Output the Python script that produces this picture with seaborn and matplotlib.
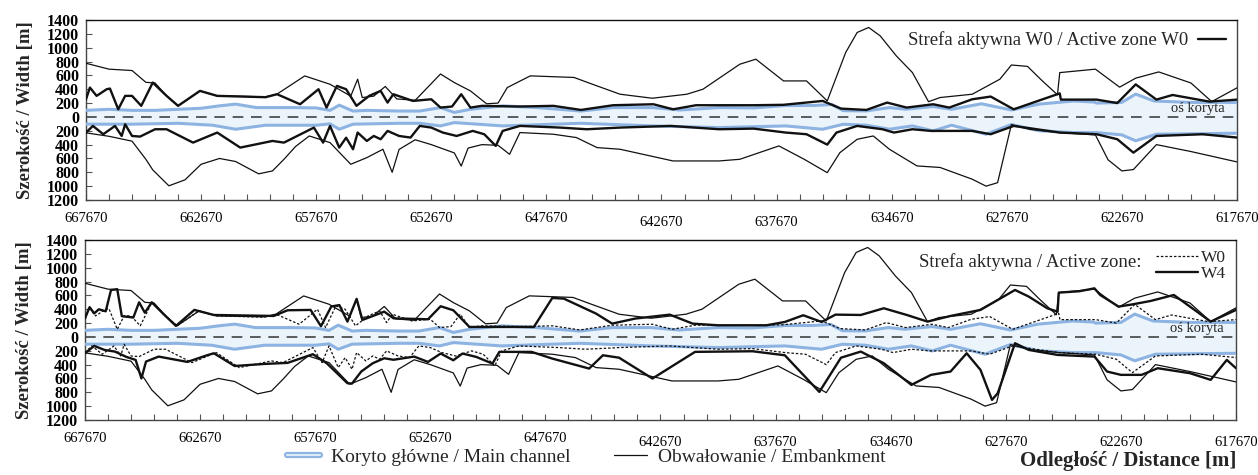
import numpy as np
import matplotlib
matplotlib.use("Agg")
import matplotlib.pyplot as plt
import seaborn as sns
from matplotlib.lines import Line2D
from matplotlib.legend_handler import HandlerTuple
from matplotlib.ticker import FixedLocator, FuncFormatter
from matplotlib.transforms import ScaledTranslation

# ---------------- data (chainage [m], half-width [m]) ----------------
tick_pos = [667670, 662670, 657670, 652670, 647670, 642670, 637670, 632670, 627670, 622670, 617670]
tick_labels = ["667670", "662670", "657670", "652670", "647670", "642670", "637670", "634670",
               "627670", "622670", "617670"]

ch_up_x = [667670, 666670, 665670, 664670, 663670, 662670, 661870, 661170, 660270, 658670, 657670, 657070,
           656670, 656070, 655470, 654070, 653170, 652270, 651670, 650970, 649570, 648070, 646170, 644770,
           643070, 641870, 640170, 638670, 637270, 636070, 635270, 634770, 633770, 632770, 632070, 630870,
           630070, 628770, 627470, 626270, 624770, 623870, 623770, 622670, 622070, 621270, 619670, 617670]
ch_up_y = [95, 110, 95, 95, 110, 125, 160, 185, 135, 135, 130, 95, 170, 85, 95, 85, 85, 135, 65, 110, 160,
           135, 85, 135, 135, 100, 135, 130, 165, 165, 180, 90, 87, 135, 111, 150, 110, 190, 100, 185, 230,
           215, 200, 210, 330, 230, 210, 210]

ch_dn_x = [667670, 665670, 663670, 662170, 661170, 659870, 657670, 657070, 656670, 656070, 654070, 653170,
           652270, 651670, 649570, 646170, 643070, 640170, 637270, 635670, 634770, 633770, 632770, 631770,
           630870, 630070, 628570, 627470, 626270, 624770, 623770, 622670, 622070, 621170, 617670]
ch_dn_y = [-105, -105, -92, -120, -178, -120, -120, -100, -178, -105, -92, -92, -130, -82, -130, -92, -130,
           -154, -130, -178, -106, -120, -178, -130, -202, -120, -250, -110, -200, -226, -226, -260, -345,
           -250, -236]

emb_up_x = [667670, 666670, 665670, 665070, 664670, 664170, 663670, 662720, 661970, 659870,
            659370, 658170, 657070, 656170, 655870, 655670, 655170, 654670, 654170, 653370,
            652270, 651670, 650970, 650270, 649770, 649370, 648370, 646470, 645670, 644470,
            643070, 641570, 640870, 639270, 638570, 637370, 636370, 635470, 634670, 634170,
            633670, 633170, 632470, 631770, 631070, 630570, 629170, 627970, 627470, 626770,
            626170, 625470, 625370, 623820, 622770, 622070, 621070, 619670, 618770, 617670]
emb_up_y = [775, 690, 670, 500, 490, 304, 160, 376, 304, 290,
            330, 592, 472, 300, 545, 280, 300, 440, 260, 240,
            620, 496, 376, 190, 200, 424, 593, 570, 472, 328,
            270, 328, 400, 761, 834, 520, 520, 231, 930, 1220,
            1292, 1171, 882, 641, 220, 280, 328, 545, 750, 730,
            534, 320, 640, 690, 430, 560, 650, 490, 221, 420]

emb_dn_x = [667670, 666670, 665670, 665070, 664770, 664070, 663370, 662670, 661870, 661170,
            660170, 659570, 659070, 658570, 657970, 657070, 656170, 655470, 654770, 654370,
            654070, 653370, 652670, 651670, 651370, 651070, 650470, 649770, 649270, 648820,
            647370, 646370, 645470, 644470, 642170, 640170, 639270, 637570, 636470, 635470,
            634920, 634170, 633470, 632770, 631570, 630570, 629170, 628570, 628070, 627470,
            626670, 625370, 623820, 623270, 622670, 622170, 621170, 619670, 617670]
emb_dn_y = [-230, -280, -350, -612, -765, -995, -909, -684, -600, -644,
            -822, -780, -612, -428, -275, -371, -684, -588, -467, -800,
            -470, -330, -400, -520, -710, -450, -400, -410, -540, -226,
            -250, -298, -443, -467, -636, -636, -612, -419, -612, -805,
            -516, -323, -275, -467, -708, -730, -900, -1000, -950, -110,
            -180, -226, -260, -620, -780, -760, -400, -500, -650]

w0_up_x = [667670, 667500, 667210, 666770, 666630, 666270, 665970, 665670, 665270, 664770,
           664170, 663670, 662720, 661970, 659870, 659370, 658370, 657570, 657220, 656770,
           656370, 655920, 655370, 654870, 654570, 654320, 653470, 652670, 652270, 651770,
           651370, 650970, 650470, 648820, 647370, 646170, 644770, 643020, 642170, 641170,
           638670, 637370, 635670, 634870, 633770, 632870, 632020, 630870, 630170, 629170,
           628370, 627370, 625370, 625320, 623770, 622870, 622070, 621170, 620470, 618870,
           617670]
w0_up_y = [255, 424, 304, 400, 410, 110, 304, 304, 160, 496,
           304, 160, 376, 304, 285, 328, 183, 400, 135, 448,
           400, 160, 304, 376, 207, 328, 231, 255, 135, 150,
           328, 135, 160, 150, 160, 101, 169, 183, 110, 169,
           169, 175, 231, 120, 101, 207, 135, 183, 135, 255,
           294, 110, 340, 250, 250, 200, 470, 250, 317, 221,
           250]

w0_dn_x = [667670, 667370, 666920, 666410, 666120, 665970, 665670, 665320, 664670, 664170,
           663020, 661970, 660970, 659570, 659070, 657770, 657370, 657070, 656670, 656370,
           656070, 655870, 655470, 655170, 654870, 654570, 654070, 653570, 653170, 652670,
           652170, 651570, 650870, 650370, 649870, 649570, 648820, 647070, 645920, 644470,
           642270, 640170, 638670, 637270, 636370, 635470, 635070, 634170, 633070, 632570,
           631770, 630970, 629170, 628370, 627370, 625370, 623770, 622870, 622170, 621170,
           619170, 617670]
w0_dn_y = [-226, -130, -250, -130, -275, -106, -275, -284, -178, -178,
           -371, -226, -443, -347, -371, -154, -371, -130, -443, -300,
           -467, -226, -347, -275, -322, -202, -275, -298, -130, -154,
           -226, -275, -202, -250, -419, -202, -130, -154, -178, -154,
           -130, -178, -169, -226, -250, -400, -226, -130, -178, -226,
           -178, -202, -202, -250, -130, -226, -250, -322, -516, -275,
           -250, -298]

w4_up_x = [667670, 667470, 667270, 667070, 666770, 666540, 666270, 666070, 665570, 665320,
           665070, 664770, 664220, 663720, 662920, 662070, 659470, 658870, 657870, 657420,
           656970, 656620, 656270, 655870, 655620, 654670, 654270, 652770, 652220, 651670,
           650970, 648170, 647370, 646870, 645470, 644770, 643770, 642270, 641270, 640170,
           638070, 637270, 636470, 635670, 635070, 633970, 632970, 631970, 631070, 630070,
           628770, 627270, 626670, 625870, 625420, 625370, 624470, 623820, 623570, 622770,
           622170, 621370, 620370, 619470, 618770, 617670]
w4_up_y = [269, 430, 340, 399, 370, 678, 690, 300, 280, 500,
           350, 500, 317, 159, 390, 317, 303, 385, 390, 155,
           440, 460, 221, 550, 245, 365, 269, 255, 443, 385,
           144, 144, 563, 553, 337, 192, 265, 322, 192, 168,
           168, 216, 313, 216, 322, 317, 414, 317, 221, 303,
           390, 678, 582, 414, 365, 640, 660, 702, 606, 438,
           470, 520, 606, 390, 221, 390]

w4_dn_x = [667670, 667270, 666820, 666370, 665870, 665470, 665220, 665020, 664470, 663220,
           662370, 662070, 661170, 659870, 658870, 657770, 657170, 656270, 656070, 655670,
           655170, 654670, 654270, 653370, 652770, 652220, 651670, 651270, 650670, 649970,
           649670, 648270, 647370, 645770, 645170, 644470, 643020, 641170, 638670, 637270,
           635770, 634830, 633970, 632970, 631770, 630920, 630070, 629370, 628770, 628270,
           628020, 627270, 626670, 625420, 623820, 623270, 622670, 621770, 621070, 619670,
           618770, 618070, 617670]
w4_dn_y = [-236, -130, -188, -212, -289, -332, -600, -356, -284, -361,
           -265, -236, -420, -390, -375, -250, -380, -669, -673, -500,
           -380, -308, -330, -284, -361, -240, -337, -240, -289, -385,
           -216, -216, -313, -457, -265, -300, -601, -216, -207, -265,
           -794, -300, -212, -380, -693, -548, -500, -236, -476, -909,
           -813, -91, -188, -260, -284, -500, -548, -548, -452, -524,
           -620, -332, -452]

# ---------------- style ----------------
sns.set_style("white")
plt.rcParams["font.family"] = ["Liberation Serif", "DejaVu Serif"]

BLUE = "#8db3e2"
FILL = "#eaf4fa"
INK = "#111111"

W, H = 1258, 475
fig = plt.figure(figsize=(W / 100, H / 100), dpi=100)
ax_top = fig.add_axes([86 / W, 1 - 200 / H, (1237 - 86) / W, 180 / H])
ax_bot = fig.add_axes([85 / W, 1 - 420 / H, (1236 - 85) / W, 180 / H])


def line(ax, x, y, **kw):
    sns.lineplot(x=x, y=y, ax=ax, estimator=None, sort=False, legend=False, **kw)


def draw_common(ax):
    # channel fill
    px = np.r_[ch_up_x, ch_dn_x[::-1]]
    py = np.r_[ch_up_y, ch_dn_y[::-1]]
    ax.fill(px, py, color=FILL, lw=0, zorder=1)
    line(ax, ch_up_x, ch_up_y, color=BLUE, linewidth=2.2, zorder=3)
    line(ax, ch_dn_x, ch_dn_y, color=BLUE, linewidth=2.2, zorder=3)
    ax.axhline(0, color="#333333", lw=1.1, ls=(0, (7, 5)), zorder=2)
    line(ax, emb_up_x, emb_up_y, color=INK, linewidth=0.9, zorder=4)
    line(ax, emb_dn_x, emb_dn_y, color=INK, linewidth=0.9, zorder=4)

    ax.set_xlim(667670, 617670)
    ax.set_ylim(-1200, 1400)
    ax.set_xticks(tick_pos)
    ax.set_xticklabels(tick_labels)
    ax.xaxis.set_minor_locator(FixedLocator(np.arange(617670, 667671, 1000)))
    ax.set_yticks(np.arange(-1200, 1401, 200))
    ax.yaxis.set_major_formatter(FuncFormatter(lambda v, p: f"{abs(int(v))}"))
    ax.tick_params(axis="x", which="both", direction="in", length=4, width=0.8,
                   colors="#555555", labelcolor="black", labelsize=10.5, pad=9, bottom=True)
    ax.tick_params(axis="y", which="major", direction="in", length=4, width=0.8,
                   colors="#555555", labelcolor="black", labelsize=11.5, pad=5, left=True)
    for lbl in ax.get_yticklabels():
        lbl.set_fontweight("bold")
    for s in ax.spines.values():
        s.set_visible(True)
        s.set_color("#444444")
        s.set_linewidth(1.0)
    ax.spines["top"].set_color("#111111")
    ax.set_xlabel("")
    ax.set_ylabel("Szerokość / Width [m]", fontweight="bold", fontsize=13.5, labelpad=9)
    ax.text(620550, 25, "oś koryta", fontsize=10.5, ha="left", va="bottom", zorder=6)
    ax.grid(False)


draw_common(ax_top)
line(ax_top, w0_up_x, w0_up_y, color=INK, linewidth=1.7, zorder=5)
line(ax_top, w0_dn_x, w0_dn_y, color=INK, linewidth=1.7, zorder=5)
ax_top.legend(handles=[Line2D([], [], color=INK, lw=1.7)],
              labels=["Strefa aktywna W0 / Active zone W0"], loc="upper right",
              markerfirst=False, frameon=False, fontsize=13.5, handlelength=1.5,
              borderaxespad=0.2, handletextpad=0.5)

draw_common(ax_bot)
line(ax_bot, w0_up_x, w0_up_y, color=INK, linewidth=0.9, linestyle=(0, (2, 1.5)), zorder=5)
line(ax_bot, w0_dn_x, w0_dn_y, color=INK, linewidth=0.9, linestyle=(0, (2, 1.5)), zorder=5)
line(ax_bot, w4_up_x, w4_up_y, color=INK, linewidth=1.7, zorder=5)
line(ax_bot, w4_dn_x, w4_dn_y, color=INK, linewidth=1.7, zorder=5)
ax_bot.legend(handles=[Line2D([], [], color=INK, lw=0.9, ls=(0, (2, 1.5))),
                       Line2D([], [], color=INK, lw=1.7)],
              labels=["W0", "W4"], loc="upper right", frameon=False, fontsize=12.5,
              handlelength=2.4, labelspacing=0.0, borderaxespad=0.15, handletextpad=0.2)
ax_bot.text(0.918, 0.875, "Strefa aktywna / Active zone:", transform=ax_bot.transAxes,
            ha="right", va="center", fontsize=13.5)

# staggered x tick labels as in the original
for ax, idx in ((ax_top, [5, 6]), (ax_bot, [5, 6, 7, 8, 9, 10])):
    ticks = ax.xaxis.get_major_ticks()
    for i in idx:
        t = ticks[i].label1
        t.set_transform(t.get_transform() + ScaledTranslation(0, -2.2 / 72, fig.dpi_scale_trans))

# figure legend at the bottom
h_channel = (Line2D([], [], color=BLUE, lw=4.5), Line2D([], [], color="#dbe9f7", lw=1.5))
h_emb = Line2D([], [], color=INK, lw=0.9)
fig.legend(handles=[h_channel, h_emb],
           labels=["Koryto główne / Main channel", "Obwałowanie / Embankment"],
           handler_map={tuple: HandlerTuple(ndivide=1)},
           loc="lower center", bbox_to_anchor=(0.466, -0.018), ncol=2, frameon=False,
           fontsize=14, handlelength=1.7, columnspacing=2.2, handletextpad=0.6)
fig.text(1236 / W, 0.008, "Odległość / Distance [m]", ha="right", va="bottom",
         fontsize=15, fontweight="bold")

fig.savefig("out.png", dpi=100)
